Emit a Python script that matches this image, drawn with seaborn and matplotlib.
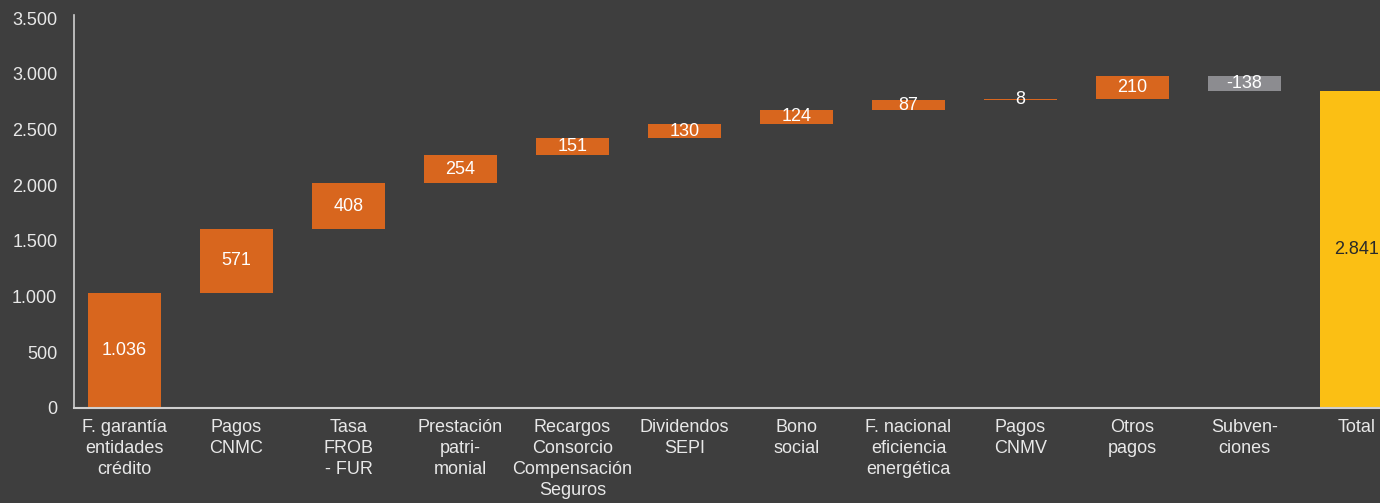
import numpy as np
import pandas as pd
import matplotlib
matplotlib.use("Agg")
import matplotlib.pyplot as plt
import seaborn as sns

categories = [
    "F. garantía\nentidades\ncrédito",
    "Pagos\nCNMC",
    "Tasa\nFROB\n- FUR",
    "Prestación\npatri-\nmonial",
    "Recargos\nConsorcio\nCompensación\nSeguros",
    "Dividendos\nSEPI",
    "Bono\nsocial",
    "F. nacional\neficiencia\nenergética",
    "Pagos\nCNMV",
    "Otros\npagos",
    "Subven-\nciones",
    "Total",
]
steps = [1036, 571, 408, 254, 151, 130, 124, 87, 8, 210, -138]
y_ticks = [0, 500, 1000, 1500, 2000, 2500, 3000, 3500]

BG = "#3e3e3e"
ORANGE = "#d8661e"
GREY = "#8c8c90"
YELLOW = "#fbbf14"
TXT = "#e8e8e8"

# waterfall construction from the step values
total = sum(steps)
cum = np.cumsum([0] + steps)
bases = list(cum[:-1]) + [0]
heights = steps + [total]
kinds = ["pos" if s >= 0 else "neg" for s in steps] + ["total"]
color_map = {"pos": ORANGE, "neg": GREY, "total": YELLOW}

df = pd.DataFrame({"cat": categories, "height": heights, "base": bases, "kind": kinds})

sns.set_theme(style="white")
plt.rcParams["font.family"] = ["Liberation Sans", "DejaVu Sans"]

fig = plt.figure(figsize=(13.8, 5.03), dpi=100)
fig.patch.set_facecolor(BG)
ax = fig.add_axes([74 / 1380, 1 - 408 / 503, 1 - 74 / 1380, (408 - 15) / 503])
ax.set_facecolor(BG)

sns.barplot(data=df, x="cat", y="height", order=categories, bottom=df["base"].values,
            width=0.652, color=ORANGE, ax=ax, saturation=1, linewidth=0, errorbar=None)

for patch, k in zip(ax.patches, df["kind"]):
    patch.set_facecolor(color_map[k])

for i, (h, b, k) in enumerate(zip(df["height"], df["base"], df["kind"])):
    label = f"{h:,}".replace(",", ".")
    ax.text(i, b + h / 2, label, ha="center", va="center",
            color="#2a2a2a" if k == "total" else "white", fontsize=13)

ax.set_xlim(-0.451, 11.21)
ax.set_ylim(0, 3527)
ax.set_yticks(y_ticks)
ax.set_yticklabels([f"{t:,}".replace(",", ".") for t in y_ticks])
ax.set_xticks(range(len(categories)))
ax.set_xticklabels(categories, linespacing=1.3)
ax.set_xlabel("")
ax.set_ylabel("")
ax.tick_params(axis="both", length=0, colors=TXT, labelsize=13)
ax.tick_params(axis="y", pad=12)
ax.tick_params(axis="x", pad=8)

for s in ["top", "right"]:
    ax.spines[s].set_visible(False)
ax.spines["left"].set_color("#cfcfcf")
ax.spines["left"].set_linewidth(1.2)
ax.spines["bottom"].set_color("#cfcfcf")
ax.spines["bottom"].set_linewidth(1.5)

fig.savefig("out.png", dpi=100, facecolor=BG)
